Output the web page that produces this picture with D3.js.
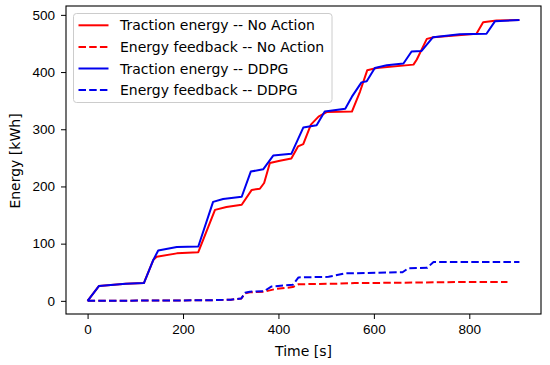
<!DOCTYPE html>
<html>
<head>
<meta charset="utf-8">
<script src="https://cdn.jsdelivr.net/npm/d3@7"></script>
<style>
  body { margin: 0; background: #fff; }
  svg { font-family: "DejaVu Sans", sans-serif; }
  .tick text { font-size: 13.5px; fill: #000; }
  .axis-label { font-size: 14px; fill: #000; }
  .legend text { font-size: 14px; fill: #000; }
</style>
</head>
<body>
<svg id="chart" width="550" height="365"></svg>
<script>
// [time s, energy kWh]
const tractionNoAction = [
  [0, 0], [24, 26], [80, 30], [118, 31], [138, 72], [145, 77], [187, 83], [232, 85],
  [267, 159], [291, 164], [323, 168], [344, 194], [361, 196], [370, 206], [382, 241],
  [403, 245], [427, 249], [441, 270], [452, 274], [468, 308], [484, 322], [501, 330],
  [554, 331], [571, 366], [586, 403], [606, 407], [683, 413], [690, 422], [711, 458],
  [725, 461], [815, 467], [829, 487], [857, 490], [905, 491]
];
const feedbackNoAction = [
  [0, 0], [250, 1], [300, 2], [322, 4], [330, 13], [340, 15], [370, 16], [395, 21],
  [430, 24], [442, 29], [520, 30], [560, 31], [700, 32], [780, 33], [880, 33]
];
const tractionDDPG = [
  [0, 0], [24, 26], [80, 30], [118, 31], [138, 72], [148, 88], [187, 94], [232, 95],
  [263, 173], [284, 178], [323, 182], [342, 226], [368, 230], [389, 254], [427, 257],
  [452, 303], [480, 307], [497, 331], [540, 336], [554, 357], [574, 382], [585, 384],
  [602, 407], [627, 412], [662, 415], [679, 436], [700, 437], [724, 461], [780, 466],
  [836, 467], [854, 489], [905, 491]
];
const feedbackDDPG = [
  [0, 0], [250, 1], [300, 2], [322, 4], [330, 14], [340, 16], [370, 17], [385, 25],
  [430, 28], [442, 41], [505, 42], [540, 48], [660, 50], [672, 57], [712, 58],
  [725, 68], [905, 68]
];

const seriesNames = [
  'Traction energy -- No Action',
  'Energy feedback -- No Action',
  'Traction energy -- DDPG',
  'Energy feedback -- DDPG'
];
const seriesData = [tractionNoAction, feedbackNoAction, tractionDDPG, feedbackDDPG];
const seriesColors = ['#ff0000', '#ff0000', '#0000ee', '#0000ee'];
const seriesDashed = [false, true, false, true];

const xTicks = [0, 200, 400, 600, 800];
const yTicks = [0, 100, 200, 300, 400, 500];

const svg = d3.select('#chart');
const plotLeft = 66, plotRight = 541, plotTop = 6, plotBottom = 314;

const x = d3.scaleLinear().domain([-45.25, 950.25]).range([plotLeft, plotRight]);
const y = d3.scaleLinear().domain([-23, 515.5]).range([plotBottom, plotTop]);

// axes
svg.append('g')
  .attr('transform', `translate(0,${plotBottom})`)
  .call(d3.axisBottom(x).tickValues(xTicks).tickSize(5).tickPadding(5))
  .call(g => g.select('.domain').remove());

svg.append('g')
  .attr('transform', `translate(${plotLeft},0)`)
  .call(d3.axisLeft(y).tickValues(yTicks).tickSize(5).tickPadding(6))
  .call(g => g.select('.domain').remove());

svg.selectAll('.tick line').attr('stroke', '#000');

// lines
const line = d3.line()
  .x(d => x(d[0]))
  .y(d => y(d[1]));

seriesData.forEach((data, i) => {
  svg.append('path')
    .datum(data)
    .attr('fill', 'none')
    .attr('stroke', seriesColors[i])
    .attr('stroke-width', 2)
    .attr('stroke-linejoin', 'round')
    .attr('stroke-dasharray', seriesDashed[i] ? '7.5,3.2' : null)
    .attr('d', line);
});

// frame
svg.append('rect')
  .attr('x', plotLeft).attr('y', plotTop)
  .attr('width', plotRight - plotLeft).attr('height', plotBottom - plotTop)
  .attr('fill', 'none')
  .attr('stroke', '#000')
  .attr('stroke-width', 1.1);

// axis labels
svg.append('text')
  .attr('class', 'axis-label')
  .attr('x', (plotLeft + plotRight) / 2)
  .attr('y', 356)
  .attr('text-anchor', 'middle')
  .text('Time [s]');

svg.append('text')
  .attr('class', 'axis-label')
  .attr('transform', 'translate(20,161) rotate(-90)')
  .attr('text-anchor', 'middle')
  .text('Energy [kWh]');

// legend
const legend = svg.append('g').attr('class', 'legend');
legend.append('rect')
  .attr('x', 73.5).attr('y', 13.5)
  .attr('width', 258.5).attr('height', 89)
  .attr('rx', 3)
  .attr('fill', '#fff')
  .attr('fill-opacity', 0.8)
  .attr('stroke', '#cccccc');

seriesNames.forEach((name, i) => {
  const cy = 25.3 + i * 21.6;
  legend.append('line')
    .attr('x1', 78.5).attr('x2', 108.5)
    .attr('y1', cy).attr('y2', cy)
    .attr('stroke', seriesColors[i])
    .attr('stroke-width', 2)
    .attr('stroke-dasharray', seriesDashed[i] ? '7.5,3.2' : null);
  legend.append('text')
    .attr('x', 120)
    .attr('y', cy)
    .attr('dy', '0.36em')
    .text(name);
});
</script>
</body>
</html>
